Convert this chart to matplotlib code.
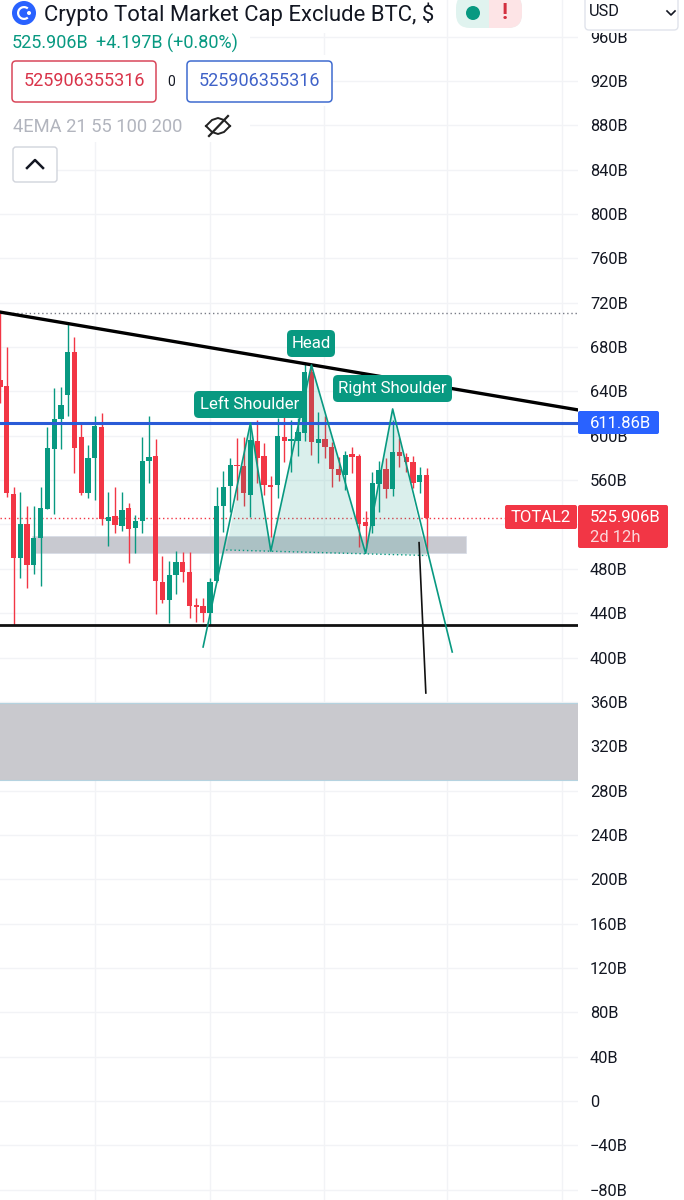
import matplotlib
matplotlib.use("Agg")
import matplotlib.pyplot as plt
from matplotlib.patches import Rectangle, FancyBboxPatch, Circle, Wedge
import numpy as np

plt.rcParams["font.family"] = ["Roboto", "DejaVu Sans"]

GREEN = "#089981"
RED = "#f23645"
BLUE = "#2a5bd7"
GRID = "#f2f3f6"

# candles, in billions
OPEN = [650.3, 645.2, 547.5, 490.1, 520.4, 483.1, 507.8, 534.0, 588.4, 614.8, 637.1, 675.9, 599.2, 548.4, 579.7, 608.2,
        523.4, 527.6, 518.6, 534.6, 516.5, 523.1, 577.0, 581.8, 467.8, 451.9, 474.1, 486.1, 477.1, 447.4, 446.8, 440.4,
        469.3, 536.7, 555.0, 573.9, 573.0, 546.9, 595.6, 581.8, 555.6, 555.6, 599.2, 595.3, 595.6, 602.2, 657.2, 593.8,
        597.1, 590.2, 569.7, 564.6, 583.6, 582.1, 521.9, 518.9, 556.5, 569.7, 552.0, 585.1, 581.2, 576.3, 558.0, 564.6]
CLOSE = [644.3, 548.1, 490.1, 520.4, 483.1, 507.8, 534.6, 589.0, 614.8, 627.5, 675.9, 589.3, 548.7, 580.3, 608.8, 524.6,
         526.7, 519.5, 533.1, 516.2, 523.1, 577.0, 580.9, 469.3, 451.9, 474.4, 486.1, 477.1, 446.5, 445.9, 439.8, 468.4,
         536.7, 554.1, 573.6, 572.7, 548.1, 596.2, 579.7, 555.6, 554.1, 600.1, 595.6, 596.8, 603.7, 657.2, 594.7, 597.1,
         590.2, 569.7, 564.6, 582.4, 581.2, 520.1, 518.6, 557.1, 569.1, 552.0, 585.4, 581.8, 576.0, 557.7, 564.6, 525.9]
HIGH = [710.5, 680.4, 554.1, 549.0, 537.0, 536.7, 553.5, 607.6, 642.8, 644.3, 702.1, 688.8, 612.1, 591.7, 617.9, 620.3,
        549.6, 554.1, 549.0, 539.1, 528.5, 598.6, 617.9, 597.4, 491.6, 487.1, 496.4, 495.5, 494.9, 453.4, 453.4, 471.4,
        554.1, 568.2, 579.6, 597.7, 599.2, 609.7, 614.2, 593.8, 563.7, 615.7, 624.8, 614.2, 615.7, 664.8, 664.8, 621.7,
        617.8, 594.7, 580.6, 586.6, 589.6, 583.3, 532.4, 567.6, 577.2, 579.7, 614.2, 597.7, 584.8, 582.1, 572.1, 571.2]
LOW = [629.3, 544.5, 429.3, 471.4, 462.4, 475.0, 464.5, 534.0, 529.4, 587.8, 617.9, 566.1, 546.6, 544.2, 542.1, 519.5,
       500.9, 512.0, 514.4, 485.5, 494.6, 512.6, 557.1, 438.9, 448.9, 431.4, 457.3, 468.4, 435.3, 432.3, 432.3, 429.3,
       468.4, 513.5, 531.5, 542.1, 537.0, 526.4, 557.1, 546.6, 509.0, 544.2, 576.6, 567.0, 581.8, 595.6, 582.7, 575.1,
       579.7, 554.1, 559.5, 551.1, 566.7, 500.0, 498.5, 512.0, 531.5, 543.6, 546.0, 571.5, 567.6, 552.6, 548.7, 494.0]

PRICE_TICKS = list(range(-80, 961, 40))
HIDDEN_TICKS = [520]  # sits under the last price tag
TIME_GRID = [14.0, 31.0, 47.9, 66.0, 83.0]

# drawings on the chart
TREND_X = [0, 85.4]
TREND_Y = [711.6, 623.3]
SUPPORT = 429.3
RESIST = 611.86
DOTTED_TOP = 710.7
LAST = 525.906
HS_X = [30.0, 37, 40, 46, 54, 58, 66.8]
HS_Y = [409.5, 611.5, 496, 663.8, 494, 624.2, 405]
FILL_X = [33.4, 37, 40, 46, 54, 58, 63]
FILL_Y = [497, 611.5, 496, 663.8, 494, 624.2, 492]
DROP_X = [61.9, 62.9]
DROP_Y = [503.6, 368]

W, H = 684, 1200
SCALE = 1.1087
ZERO_Y = 1101
PLOT_W = 578

fig = plt.figure(figsize=(W / 100, H / 100), dpi=100, facecolor="white")
ax = fig.add_axes([0, 0, PLOT_W / W, 1])
ax.set_xlim(0, PLOT_W / 6.77)
ax.set_ylim((ZERO_Y - H) / SCALE, ZERO_Y / SCALE)

for s in ax.spines.values():
    s.set_visible(False)
ax.yaxis.tick_right()
ax.set_yticks(PRICE_TICKS)
tick_text = []
for v in PRICE_TICKS:
    if v in HIDDEN_TICKS:
        tick_text.append("")
    elif v == 0:
        tick_text.append("0")
    else:
        tick_text.append(str(v).replace("-", "\u2212") + "B")
ax.set_yticklabels(tick_text, fontsize=11.8, color="#131722")
ax.tick_params(axis="y", length=0, pad=8.6)
ax.set_xticks(TIME_GRID)
ax.tick_params(axis="x", length=0, labelbottom=False)
ax.grid(True, color=GRID, lw=1)
ax.set_axisbelow(True)

# grey zones
ax.axhspan(289.5, 359, facecolor="#c9c9ce", lw=0, zorder=1)
ax.axhline(359, color="#b5d3e0", lw=0.8, zorder=1)
ax.axhline(289.5, color="#b5d3e0", lw=0.8, zorder=1)
ax.add_patch(Rectangle((4.7, 494), 64.2, 16, facecolor="#c8c9d0", edgecolor="#d5dbe6", lw=0.5, zorder=1))

# candles
x = np.arange(len(OPEN))
o, c = np.array(OPEN), np.array(CLOSE)
colors = [GREEN if b >= a else RED for a, b in zip(OPEN, CLOSE)]
ax.vlines(x, LOW, HIGH, colors=colors, lw=1.0, zorder=3)
ax.bar(x, np.abs(c - o), bottom=np.minimum(o, c), width=0.78, color=colors, lw=0, zorder=3)

# pattern
ax.fill(FILL_X, FILL_Y, color=GREEN, alpha=0.15, lw=0, zorder=4)
ax.plot(HS_X, HS_Y, color=GREEN, lw=1.2, zorder=5)
ax.plot([FILL_X[0], FILL_X[-1]], [FILL_Y[0], FILL_Y[-1]], color=GREEN, lw=1, ls=(0, (1, 2)), zorder=5)

ax.axhline(DOTTED_TOP, color="#787b86", lw=1, ls=(0, (1, 2)), zorder=2)
ax.axhline(LAST, color=RED, lw=1, ls=(0, (1, 2)), zorder=2)
ax.axhline(RESIST, color=BLUE, lw=2.2, zorder=4)
ax.axhline(SUPPORT, color="#111111", lw=2, zorder=4)
ax.plot(TREND_X, TREND_Y, color="#000000", lw=2.4, zorder=4)
ax.plot(DROP_X, DROP_Y, color="#111111", lw=1.2, zorder=5)

# header and labels, drawn in pixels on top
ui = fig.add_axes([0, 0, 1, 1])
ui.set_xlim(0, W)
ui.set_ylim(H, 0)
ui.axis("off")
ui.patch.set_alpha(0)


def box(x0, y0, x1, y1, fc="white", ec="none", lw=1.0, r=3):
    p = FancyBboxPatch((x0 + r, y0 + r), x1 - x0 - 2 * r, y1 - y0 - 2 * r,
                       boxstyle=f"round,pad={r},rounding_size={r}",
                       fc=fc, ec=ec, lw=lw)
    ui.add_patch(p)
    return p


def label(x0, y0, x1, y1, s):
    box(x0, y0, x1, y1, fc=GREEN, r=5)
    ui.text((x0 + x1) / 2, (y0 + y1) / 2, s, color="white", fontsize=12.1, ha="center", va="center")


label(194, 391, 306, 418, "Left Shoulder")
label(287, 330, 335, 357, "Head")
label(333, 375, 452, 402, "Right Shoulder")

# price axis tags
box(578, 411, 659, 434, fc="#2962ff", r=2)
ui.text(590, 423, "611.86B", color="white", fontsize=12, va="center")
box(505, 505, 577, 529, fc=RED, r=2)
ui.text(541, 517.5, "TOTAL2", color="white", fontsize=12, ha="center", va="center")
box(578, 505, 668, 548, fc=RED, r=2)
ui.text(590, 517.5, "525.906B", color="white", fontsize=12, va="center")
ui.text(590, 537, "2d 12h", color="#fbd5d9", fontsize=12, va="center")

# white areas behind the header
for x0, y0, x1, y1 in [(0, 0, 445, 33), (578, 0, W, 33), (0, 33, 250, 55), (0, 55, 333, 106),
                       (0, 106, 250, 142), (0, 142, 57, 185)]:
    ui.add_patch(Rectangle((x0, y0), x1 - x0, y1 - y0, fc="white", ec="none"))

ui.add_patch(Circle((24, 13), 12, fc="#2962ff", ec="none"))
ui.add_patch(Wedge((24, 13), 7, 50, 310, width=2.2, fc="white", ec="none"))
ui.add_patch(Circle((29, 13), 2, fc="white", ec="none"))
ui.text(44, 14, "Crypto Total Market Cap Exclude BTC, $", fontsize=15.9, color="#131722", va="center")

pill = box(456, -6, 522, 28, fc="#e0f3ef", r=14)
right_half = Rectangle((489, -6), 33, 34, fc="#fde4e6", ec="none")
ui.add_patch(right_half)
right_half.set_clip_path(pill)
ui.add_patch(Circle((473, 13), 7, fc=GREEN, ec="none"))
ui.text(505, 13, "!", fontsize=16, color="#d32f3f", weight="bold", ha="center", va="center")

box(585, -6, 678, 30, ec="#e0e3eb", r=4)
ui.text(589, 12, "USD", fontsize=11.8, color="#131722", va="center")
ui.plot([667, 671, 675], [11, 15, 11], color="#131722", lw=1.2)

ui.text(12, 43.5, "525.906B", fontsize=13, color=GREEN, va="center")
ui.text(96, 43.5, "+4.197B (+0.80%)", fontsize=13, color=GREEN, va="center")

box(12, 61, 156, 102, ec="#d9475a", lw=1.1, r=4)
ui.text(84, 81.5, "525906355316", fontsize=13, color="#d9344a", ha="center", va="center")
ui.text(171, 81.5, "0", fontsize=10, color="#131722", ha="center", va="center")
box(187, 61, 332, 102, ec="#3f6bd0", lw=1.1, r=4)
ui.text(259.5, 81.5, "525906355316", fontsize=13, color="#3f62c8", ha="center", va="center")

ui.text(13, 126.5, "4EMA 21 55 100 200", fontsize=13.2, color="#b2b5be", va="center")
# crossed out eye
t = np.array([0.0, 0.25, 0.5, 0.75, 1.0])
ui.plot(206 + 24 * t, [126, 120, 118, 120, 126], color="#222222", lw=1.4)
ui.plot(206 + 24 * t, [126, 132, 134, 132, 126], color="#222222", lw=1.4)
ui.plot([209, 228], [136, 116], color="#222222", lw=1.6)

box(13, 147, 57, 182, ec="#d1d4dc", r=3)
ui.plot([27, 35, 43], [168, 160, 168], color="#131722", lw=1.8)

fig.savefig("out.png", dpi=100)
